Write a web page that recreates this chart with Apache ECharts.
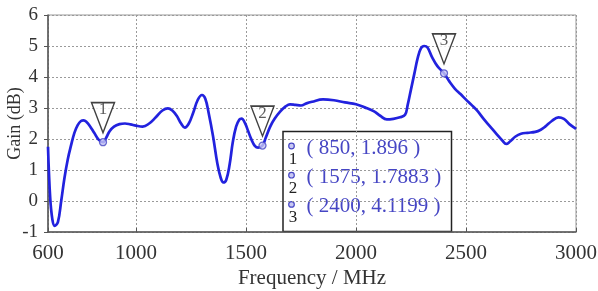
<!DOCTYPE html>
<html>
<head>
<meta charset="utf-8">
<script src="https://cdn.jsdelivr.net/npm/echarts@6/dist/echarts.min.js"></script>
<style>
  html, body { margin: 0; padding: 0; background: #fff; }
  #chart { width: 598px; height: 291px; }
</style>
</head>
<body>
<div id="chart"></div>
<script>
// frequency (MHz) and gain (dB)
const freq = [600, 610, 620, 630, 645, 660, 675, 690, 705, 720, 735, 750, 762, 775, 790, 810, 830, 850,
  865, 880, 900, 925, 950, 975, 1000, 1030, 1060, 1090, 1120, 1145, 1165, 1185, 1205, 1222, 1240, 1260,
  1280, 1300, 1315, 1330, 1350, 1370, 1385, 1397, 1410, 1425, 1440, 1455, 1470, 1480, 1495, 1510, 1525,
  1540, 1555, 1575, 1590, 1610, 1630, 1655, 1680, 1700, 1725, 1750, 1775, 1800, 1850, 1900, 1950, 2000,
  2040, 2080, 2110, 2140, 2170, 2200, 2223, 2235, 2250, 2265, 2280, 2295, 2310, 2325, 2345, 2370, 2400,
  2425, 2450, 2475, 2500, 2525, 2550, 2580, 2610, 2640, 2665, 2683, 2700, 2725, 2750, 2780, 2815, 2840,
  2860, 2890, 2920, 2945, 2970, 3000]
const gain = [1.75, 0.1, -0.6, -0.8, -0.68, 0.0, 0.75, 1.35, 1.8, 2.2, 2.45, 2.58, 2.6, 2.55, 2.42, 2.2, 1.98, 1.896,
  2.05, 2.25, 2.4, 2.48, 2.5, 2.47, 2.43, 2.4, 2.5, 2.7, 2.92, 2.99, 2.92, 2.75, 2.5, 2.37, 2.5, 2.85,
  3.25, 3.42, 3.3, 2.85, 2.1, 1.2, 0.75, 0.6, 0.68, 1.15, 1.9, 2.4, 2.63, 2.66, 2.52, 2.25, 1.98,
  1.78, 1.72, 1.7883, 2.05, 2.4, 2.65, 2.88, 3.05, 3.12, 3.1, 3.08, 3.15, 3.2, 3.28, 3.25, 3.18, 3.12,
  3.02, 2.9, 2.75, 2.63, 2.65, 2.7, 2.78, 3.1, 3.6, 4.1, 4.6, 4.92, 5.0, 4.95, 4.65, 4.35, 4.12,
  3.85, 3.62, 3.45, 3.27, 3.1, 2.92, 2.65, 2.4, 2.15, 1.95, 1.84, 1.92, 2.08, 2.17, 2.2, 2.23, 2.3,
  2.4, 2.58, 2.7, 2.65, 2.48, 2.33]

// data markers
const markerIds = ['1', '2', '3']
const markerFreq = [850, 1575, 2400]
const markerGain = [1.896, 1.7883, 4.1199]

// tick labels
const xTicks = [600, 1000, 1500, 2000, 2500, 3000]
const yTicks = [-1, 0, 1, 2, 3, 4, 5, 6]

const serif = '"Liberation Serif", "DejaVu Serif", serif'
const blue = '#2222de'
const txtBlue = '#4646c4'

const curve = freq.map((f, i) => [f, gain[i]])
const marks = markerFreq.map((f, i) => ({ value: [f, markerGain[i]], id: markerIds[i] }))

// read-out box
const boxX = 283, boxY = 131.5, rowH = 29.2
const boxChildren = [{
  type: 'rect',
  shape: { x: boxX, y: boxY, width: 168.5, height: 100 },
  style: { fill: '#fff', stroke: '#222', lineWidth: 1.5 }
}]
markerIds.forEach((id, i) => {
  const cy = boxY + 16 + i * rowH
  boxChildren.push({
    type: 'circle',
    shape: { cx: boxX + 8.5, cy: cy - 1.5, r: 2.8 },
    style: { fill: '#c8c8f4', stroke: txtBlue, lineWidth: 1.2 }
  })
  boxChildren.push({
    type: 'text',
    style: { x: boxX + 10, y: cy + 12, text: id, font: '17px ' + serif, fill: '#222', align: 'center', verticalAlign: 'middle' }
  })
  boxChildren.push({
    type: 'text',
    style: { x: boxX + 23.5, y: cy + 1, text: '( ' + markerFreq[i] + ', ' + markerGain[i] + ' )', font: '21px ' + serif, fill: txtBlue, align: 'left', verticalAlign: 'middle' }
  })
})

const option = {
  animation: false,
  backgroundColor: '#fff',
  grid: { left: 48, right: 22, top: 15, bottom: 59, outerBoundsMode: 'none', containLabel: false,
    show: true, borderColor: '#999', borderWidth: 1 },
  xAxis: {
    type: 'value', min: 600, max: 3000,
    name: 'Frequency / MHz', nameLocation: 'middle', nameGap: 36, nameMoveOverlap: false,
    nameTextStyle: { fontFamily: serif, fontSize: 21, color: '#333' },
    axisLine: { show: true, onZero: false, lineStyle: { color: '#555', width: 1.5 } },
    axisTick: { show: true, inside: true, length: 4, customValues: xTicks, lineStyle: { color: '#555' } },
    axisLabel: { customValues: xTicks, formatter: v => String(v), fontFamily: serif, fontSize: 21, color: '#333', margin: 11,
      showMinLabel: true, showMaxLabel: true, hideOverlap: false },
    splitLine: { show: true, lineStyle: { color: '#9a9a9a', type: [2, 2], width: 1 } }
  },
  yAxis: {
    type: 'value', min: -1, max: 6, interval: 1,
    name: 'Gain (dB)', nameLocation: 'middle', nameGap: 24, nameRotate: 90, nameMoveOverlap: false,
    nameTextStyle: { fontFamily: serif, fontSize: 18, color: '#333' },
    axisLine: { show: true, onZero: false, lineStyle: { color: '#555', width: 1.5 } },
    axisTick: { show: true, length: 4, lineStyle: { color: '#555' } },
    axisLabel: { fontFamily: serif, fontSize: 19, color: '#333', margin: 10,
      formatter: v => yTicks.includes(v) ? String(v) : '' },
    splitLine: { show: true, lineStyle: { color: '#9a9a9a', type: [2, 2], width: 1 } }
  },
  series: [{
    type: 'line',
    data: curve,
    smooth: 0.4,
    showSymbol: false,
    lineStyle: { color: blue, width: 2.7 },
    z: 3
  }, {
    type: 'scatter',
    data: marks.map(m => m.value),
    symbol: 'circle',
    symbolSize: 7,
    itemStyle: { color: '#c8c8f4', borderColor: txtBlue, borderWidth: 1.3 },
    z: 4
  }, {
    type: 'scatter',
    data: marks.map(m => ({ value: m.value, name: m.id })),
    symbol: 'path://M0,0L24,0L12,30Z',
    symbolSize: [23, 30],
    symbolOffset: [0, -24.5],
    itemStyle: { color: '#fff', borderColor: '#111', borderWidth: 1.5 },
    label: {
      show: true, position: 'inside', offset: [0, -8],
      formatter: p => p.name,
      fontFamily: serif, fontSize: 17, color: '#333'
    },
    z: 5
  }],
  graphic: [{ type: 'group', z: 10, children: boxChildren }]
}

const chart = echarts.init(document.getElementById('chart'))
chart.setOption(option)
</script>
</body>
</html>
